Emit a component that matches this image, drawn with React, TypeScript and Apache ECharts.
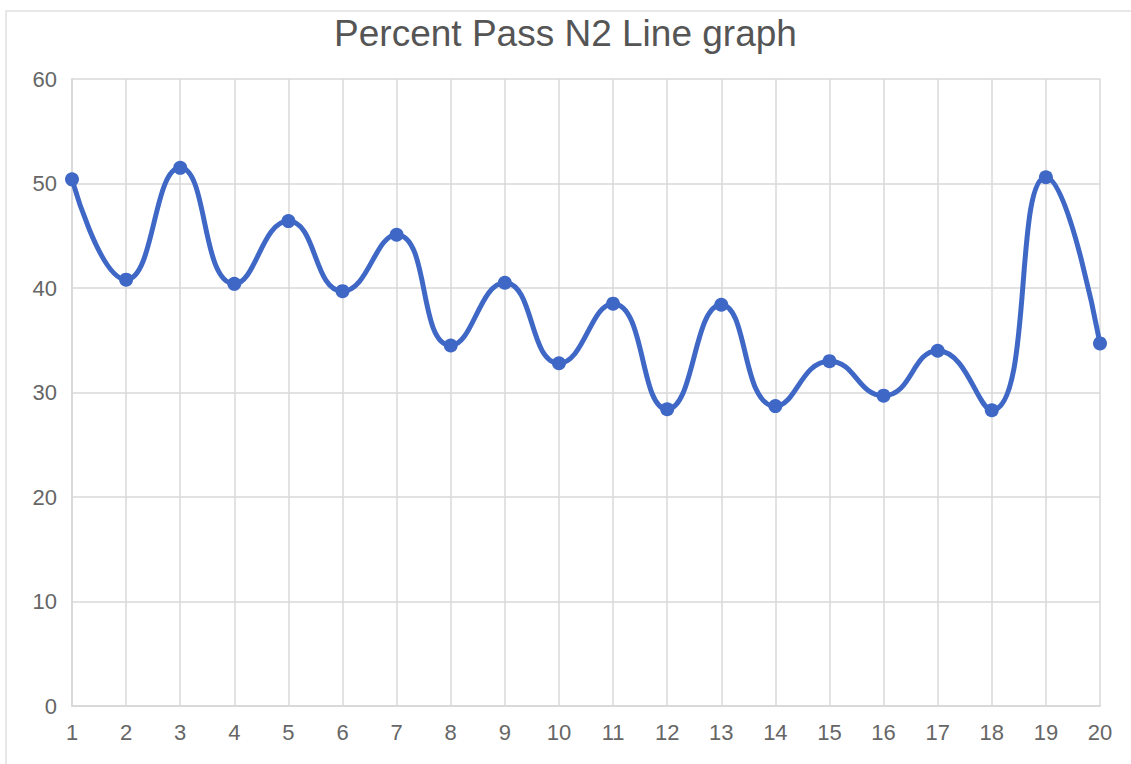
import React, { useEffect, useRef } from "react";
import * as echarts from "echarts";

const categories = ["1","2","3","4","5","6","7","8","9","10","11","12","13","14","15","16","17","18","19","20"];
const percentPass = [50.4, 40.8, 51.5, 40.4, 46.4, 39.7, 45.1, 34.5, 40.5, 32.8, 38.5, 28.4, 38.4, 28.7, 33.0, 29.7, 34.0, 28.3, 50.6, 34.7];
const titleText = "Percent Pass N2 Line graph";

const FONT = "'Liberation Sans', Arial, sans-serif";

export default function App() {
  const ref = useRef<HTMLDivElement>(null);
  useEffect(() => {
    document.body.style.margin = "0";
    const chart = echarts.init(ref.current!, null, { renderer: "svg" });
    chart.setOption({
      animation: false,
      backgroundColor: "#ffffff",
      title: {
        text: titleText,
        left: "center",
        top: 10,
        textStyle: { fontFamily: FONT, fontSize: 37, fontWeight: "normal", color: "#555555" },
      },
      graphic: [
        {
          type: "rect",
          shape: { x: 6, y: 11, width: 1200, height: 800 },
          style: { fill: "none", stroke: "#e0e0e0", lineWidth: 1.5 },
          silent: true,
        },
      ],
      grid: { left: 72, right: 31, top: 79, bottom: 58 },
      xAxis: {
        type: "category",
        data: categories,
        boundaryGap: false,
        axisLine: { lineStyle: { color: "#d9d9d9", width: 2 } },
        axisTick: { show: false },
        axisLabel: { color: "#666666", fontSize: 22, fontFamily: FONT, margin: 15 },
        splitLine: { show: true, lineStyle: { color: "#d9d9d9", width: 1.5 } },
      },
      yAxis: {
        type: "value",
        min: 0,
        max: 60,
        interval: 10,
        axisLine: { show: true, lineStyle: { color: "#d9d9d9", width: 2 } },
        axisTick: { show: false },
        axisLabel: { color: "#666666", fontSize: 22, fontFamily: FONT, margin: 15 },
        splitLine: { show: true, lineStyle: { color: "#d9d9d9", width: 1.5 } },
      },
      series: [
        {
          type: "line",
          data: percentPass,
          smooth: 0.5,
          symbol: "circle",
          symbolSize: 14,
          lineStyle: { color: "#3f68c6", width: 5 },
          itemStyle: { color: "#3f68c6" },
        },
      ],
    });
    return () => chart.dispose();
  }, []);
  return <div ref={ref} style={{ width: 1131, height: 764 }} />;
}
